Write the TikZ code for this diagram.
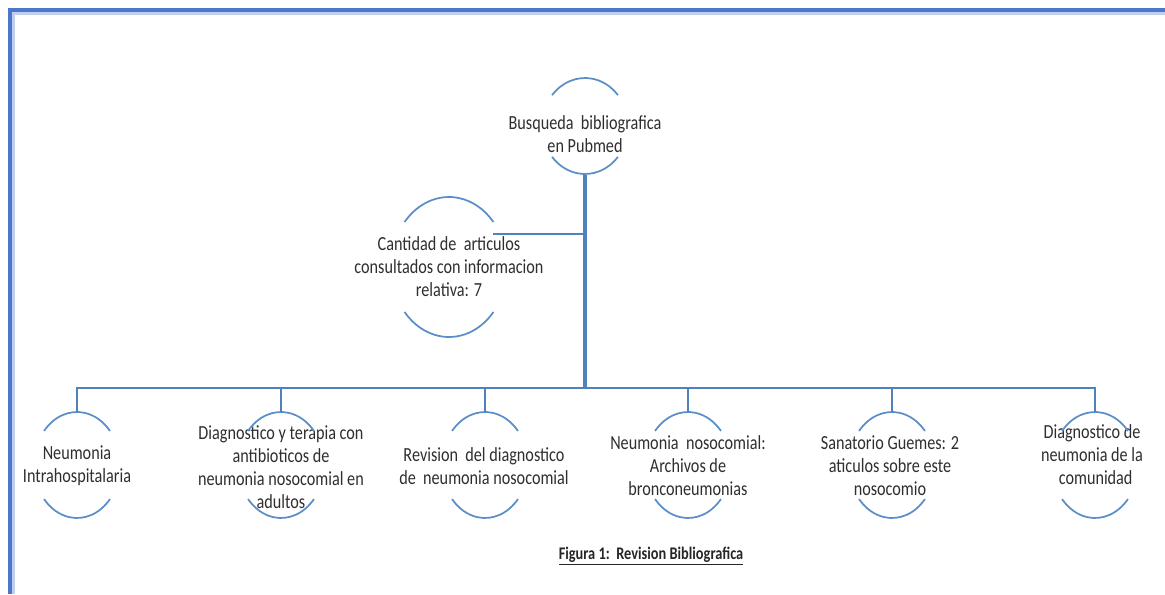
\documentclass[tikz,border=0pt]{standalone}
\usepackage{fontspec}
\setmainfont{Carlito}[FakeStretch=0.81]
\usetikzlibrary{calc}
\definecolor{arcblue}{HTML}{5B8DC8}
\definecolor{linkblue}{HTML}{4F81BD}
\definecolor{frameblue}{HTML}{4A76CC}
\definecolor{txt}{HTML}{2E2E2E}
\newcommand\twoarcs[4]{% cx, cy, rx, ry
  \draw[arcst] ($(#1,#2)+(40:#3 and #4)$) arc[start angle=40,end angle=140,x radius=#3,y radius=#4];
  \draw[arcst] ($(#1,#2)+(220:#3 and #4)$) arc[start angle=220,end angle=320,x radius=#3,y radius=#4];}
\begin{document}
\begin{tikzpicture}[x=0.75pt,y=-0.75pt,
  arcst/.style={draw=arcblue,line width=1.3pt},
  conn/.style={draw=linkblue,line width=1.5pt},
  trunk/.style={draw=linkblue,line width=2.6pt},
  lbl/.style={text=txt,align=center,font=\fontsize{15}{17.25}\selectfont,inner sep=0pt},
  capst/.style={text=black!85,font=\fontsize{13.3}{15}\selectfont\bfseries,inner sep=0pt}]
\useasboundingbox (0,0) rectangle (1165,594);
% frame
\draw[frameblue!35,line width=2pt] (13.5,594) -- (13.5,13.5) -- (1165,13.5);
\draw[frameblue,line width=3pt] (10,594) -- (10,10) -- (1165,10);
% nodes
\node[lbl] (top) at (585,134) {Busqueda\ \ bibliografica\\en Pubmed};
\twoarcs{585}{126}{43}{48}
\coordinate (top-s) at (585,175);
\node[lbl] (cant) at (449,267) {Cantidad de\ \ articulos\\consultados con informacion\\relativa: 7};
\twoarcs{449}{267}{58}{70}
\coordinate (cant-e) at (493,234);
\coordinate (j1) at (585,234);
\coordinate (bus) at (585,388);

\node[lbl] (b1) at (77,466) {Neumonia\\Intrahospitalaria};
\twoarcs{77}{465}{43}{53}
\coordinate (b1-n) at (77,412);
\node[lbl] (b2) at (281,467) {Diagnostico y terapia con\\antibioticos de\\neumonia nosocomial en\\adultos};
\twoarcs{281}{465}{43}{53}
\coordinate (b2-n) at (281,412);
\node[lbl] (b3) at (484,466) {Revision\ \ del diagnostico\\de\ \ neumonia nosocomial};
\twoarcs{485}{465}{43}{53}
\coordinate (b3-n) at (485,412);
\node[lbl] (b4) at (688,466) {Neumonia\ \ nosocomial:\\Archivos de\\bronconeumonias};
\twoarcs{688}{465}{43}{53}
\coordinate (b4-n) at (688,412);
\node[lbl] (b5) at (890,466) {Sanatorio Guemes: 2\\aticulos sobre este\\nosocomio};
\twoarcs{892}{465}{43}{53}
\coordinate (b5-n) at (892,412);
\node[lbl] (b6) at (1092,455) {Diagnostico de\\neumonia de la\\\ \ comunidad};
\twoarcs{1095}{465}{43}{53}
\coordinate (b6-n) at (1095,412);
% connectors
\draw[trunk] (top-s) -- (bus);
\draw[conn] (cant-e) -- (j1);
\foreach \b in {b1,b2,b3,b4,b5,b6} \draw[conn] (bus) -| (\b-n);
% caption
\node[capst] (cap) at (651,556) {\underline{Figura 1:\ \ Revision Bibliografica}};
\end{tikzpicture}
\end{document}
